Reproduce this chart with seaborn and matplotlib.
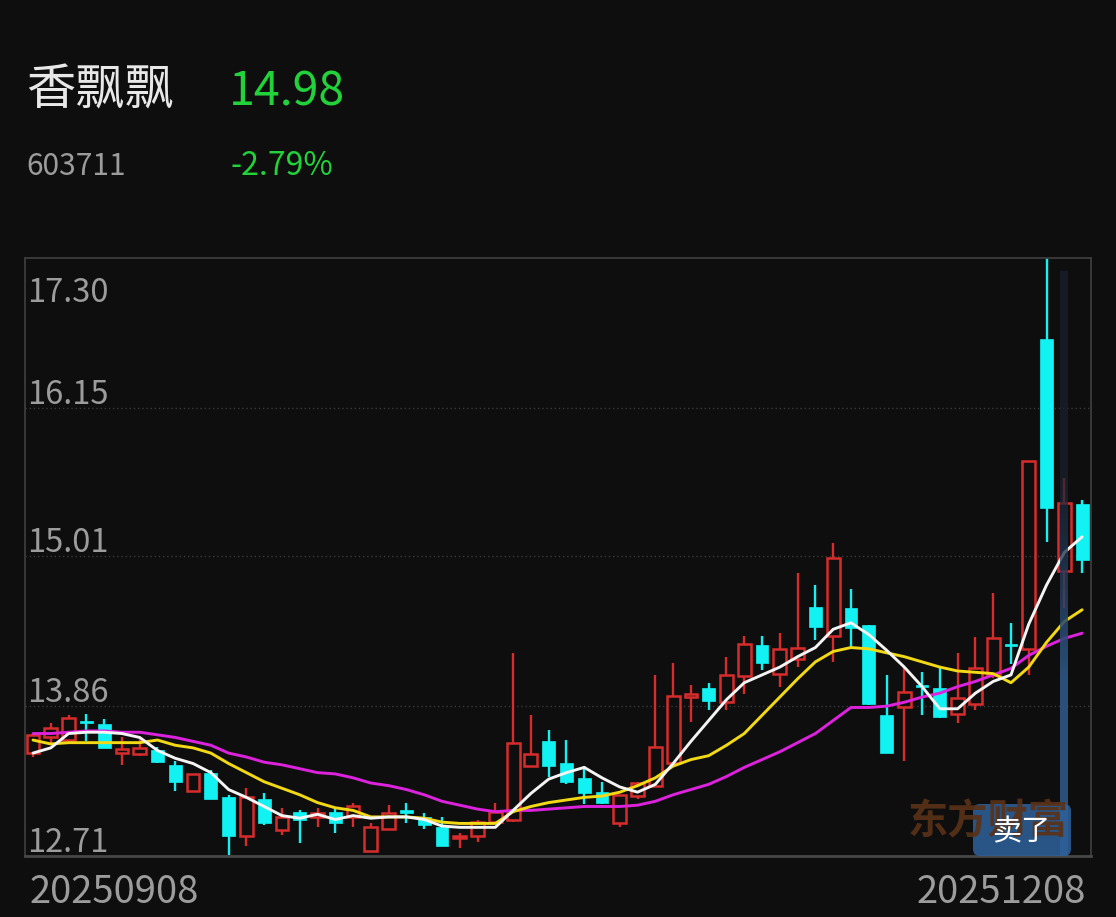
import numpy as np
import pandas as pd
import matplotlib.pyplot as plt
import seaborn as sns
from matplotlib.patches import FancyBboxPatch
from matplotlib.transforms import IdentityTransform

# Header info
stock_name = "香飘飘"
stock_code = "603711"
last_price = "14.98"
pct_change = "-2.79%"
date_labels = ["20250908", "20251208"]
y_ticks = [12.71, 13.86, 15.01, 16.15, 17.30]

# Daily candles, 2025-09-08 .. 2025-12-08 (60 trading days)
open_px = [13.50, 13.62, 13.60, 13.75, 13.72, 13.50, 13.49, 13.52, 13.41, 13.21,
           13.35, 13.16, 12.86, 13.15, 12.91, 13.05, 13.01, 13.05, 13.01, 12.75,
           12.92, 13.06, 13.01, 12.93, 12.85, 12.86, 12.97, 12.99, 13.40, 13.59,
           13.42, 13.31, 13.20, 12.96, 13.17, 13.25, 13.42, 13.93, 14.00, 13.89,
           14.09, 14.33, 14.11, 14.22, 14.62, 14.40, 14.61, 14.48, 13.79, 13.85,
           14.02, 14.00, 13.80, 13.88, 14.10, 14.33, 14.30, 16.68, 14.90, 15.41]
close_px = [13.64, 13.69, 13.77, 13.73, 13.54, 13.53, 13.54, 13.43, 13.28, 13.34,
            13.15, 12.86, 13.16, 12.96, 13.01, 12.99, 13.04, 12.96, 13.09, 12.93,
            13.04, 13.04, 12.95, 12.79, 12.86, 12.97, 13.05, 13.58, 13.49, 13.40,
            13.28, 13.19, 13.12, 13.18, 13.27, 13.55, 13.94, 13.95, 13.90, 14.10,
            14.34, 14.19, 14.30, 14.31, 14.47, 15.00, 14.46, 13.88, 13.50, 13.97,
            14.01, 13.78, 13.92, 14.15, 14.38, 14.32, 15.74, 15.38, 15.42, 14.98]
high_px = [13.65, 13.73, 13.79, 13.80, 13.76, 13.62, 13.61, 13.55, 13.44, 13.34,
           13.37, 13.18, 13.23, 13.19, 13.08, 13.06, 13.08, 13.07, 13.12, 12.96,
           13.10, 13.12, 13.04, 13.01, 12.89, 12.99, 13.12, 14.27, 13.79, 13.68,
           13.60, 13.40, 13.28, 13.18, 13.28, 14.10, 14.19, 14.02, 14.04, 14.24,
           14.40, 14.40, 14.42, 14.88, 14.79, 15.11, 14.76, 14.48, 14.10, 14.16,
           14.12, 14.15, 14.27, 14.39, 14.73, 14.50, 15.74, 17.30, 15.61, 15.44]
low_px = [13.47, 13.58, 13.59, 13.59, 13.54, 13.41, 13.48, 13.42, 13.21, 13.21,
          13.15, 12.72, 12.79, 12.95, 12.87, 12.81, 12.93, 12.89, 12.93, 12.75,
          12.92, 12.96, 12.92, 12.79, 12.77, 12.82, 12.97, 12.97, 13.40, 13.32,
          13.26, 13.11, 13.11, 12.93, 13.15, 13.25, 13.42, 13.74, 13.83, 13.83,
          13.95, 14.14, 14.01, 14.16, 14.37, 14.20, 14.31, 13.87, 13.50, 13.44,
          13.79, 13.77, 13.73, 13.83, 14.08, 14.18, 14.10, 15.12, 14.61, 14.88]

# Moving averages
ma5 = [13.50, 13.54, 13.65, 13.66, 13.66, 13.65, 13.62, 13.52, 13.46, 13.42,
       13.35, 13.22, 13.16, 13.09, 13.02, 13.00, 13.03, 12.99, 13.02, 13.00,
       13.01, 13.01, 12.99, 12.94, 12.93, 12.93, 12.93, 13.06, 13.19, 13.30,
       13.35, 13.39, 13.31, 13.24, 13.20, 13.26, 13.42, 13.59, 13.75, 13.91,
       14.04, 14.10, 14.16, 14.24, 14.31, 14.45, 14.50, 14.41, 14.29, 14.16,
       14.01, 13.84, 13.84, 13.96, 14.05, 14.10, 14.49, 14.79, 15.04, 15.16]
ma10 = [13.60, 13.57, 13.58, 13.58, 13.58, 13.58, 13.58, 13.60, 13.56, 13.54,
        13.50, 13.42, 13.35, 13.28, 13.23, 13.18, 13.12, 13.08, 13.06, 13.01,
        13.01, 13.01, 13.00, 12.97, 12.96, 12.96, 12.96, 13.05, 13.09, 13.12,
        13.14, 13.16, 13.17, 13.20, 13.25, 13.31, 13.40, 13.45, 13.48, 13.56,
        13.65, 13.79, 13.93, 14.07, 14.20, 14.28, 14.31, 14.30, 14.27, 14.24,
        14.20, 14.16, 14.13, 14.12, 14.11, 14.04, 14.16, 14.35, 14.51, 14.60]
ma20 = [13.65, 13.65, 13.66, 13.67, 13.67, 13.66, 13.66, 13.64, 13.62, 13.59,
        13.56, 13.50, 13.47, 13.43, 13.41, 13.38, 13.35, 13.34, 13.31, 13.27,
        13.25, 13.22, 13.18, 13.13, 13.10, 13.07, 13.05, 13.06, 13.06, 13.07,
        13.08, 13.09, 13.09, 13.09, 13.10, 13.13, 13.18, 13.22, 13.26, 13.32,
        13.39, 13.45, 13.51, 13.58, 13.65, 13.75, 13.85, 13.85, 13.86, 13.89,
        13.93, 13.96, 14.01, 14.05, 14.10, 14.15, 14.25, 14.32, 14.38, 14.42]

df = pd.DataFrame({"open": open_px, "close": close_px, "high": high_px, "low": low_px,
                   "ma5": ma5, "ma10": ma10, "ma20": ma20})
df["idx"] = np.arange(len(df))

BG = "#0e0e0e"
UP = "#d82c2c"
DOWN = "#13f2f2"
GRAY = "#9c9c9c"
GREEN = "#21d23a"

sns.set_theme(style="dark")
plt.rcParams["font.family"] = ["Noto Sans CJK SC", "DejaVu Sans"]

fig = plt.figure(figsize=(11.16, 9.17), dpi=100, facecolor=BG)
ax = fig.add_axes([25 / 1116, 61 / 917, 1066 / 1116, 598 / 917])
ax.set_facecolor(BG)

up = df[df["close"] >= df["open"]]
down = df[df["close"] < df["open"]]
w = 0.72
min_h = 0.015

# falling candles: full wick + filled body
ax.vlines(down["idx"], down["low"], down["high"], color=DOWN, lw=1.7, zorder=2)
ax.bar(down["idx"], np.maximum(down["open"] - down["close"], min_h), bottom=down["close"],
       width=w, color=DOWN, edgecolor=DOWN, linewidth=0.5, zorder=3)

# rising candles: hollow body, wick outside the box
body_lo = up[["open", "close"]].min(axis=1)
body_hi = up[["open", "close"]].max(axis=1)
ax.vlines(up["idx"], up["low"], body_lo, color=UP, lw=1.7, zorder=2)
ax.vlines(up["idx"], body_hi, up["high"], color=UP, lw=1.7, zorder=2)
ax.bar(up["idx"], np.maximum(body_hi - body_lo, min_h), bottom=body_lo, width=w,
       facecolor="none", edgecolor=UP, linewidth=1.8, zorder=3)

# moving averages
sns.lineplot(data=df, x="idx", y="ma20", color="#dd22dd", lw=2.1, ax=ax, zorder=4)
sns.lineplot(data=df, x="idx", y="ma10", color="#f2d914", lw=2.1, ax=ax, zorder=4)
sns.lineplot(data=df, x="idx", y="ma5", color="#f4f4f4", lw=2.1, ax=ax, zorder=5)

# highlight bar on the selected day (dark at top, steel blue lower down)
n = 200
grad = np.zeros((n, 1, 4))
t = np.linspace(0, 1, n)
bot_c = np.array([0.18, 0.34, 0.52])
top_c = np.array([0.10, 0.13, 0.19])
mix = np.clip((t - 0.30) / 0.35, 0, 1)[:, None]
grad[:, 0, :3] = bot_c * (1 - mix) + top_c * mix
grad[:, 0, 3] = 0.92 - 0.22 * mix[:, 0]
ax.imshow(grad, extent=(57.78, 58.22, 12.71, 17.20), origin="lower", aspect="auto", zorder=6)

ax.set_xlim(-0.45, 59.5)
ax.set_ylim(12.71, 17.30)
ax.set_xticks([])
ax.set_yticks([13.86, 15.01, 16.15])
ax.set_yticklabels([])
ax.tick_params(left=False, bottom=False)
ax.grid(axis="y", color="#3a3a3a", linestyle=(0, (1, 2)), lw=1)
ax.grid(axis="x", visible=False)
ax.set_xlabel("")
ax.set_ylabel("")
for side, sp in ax.spines.items():
    sp.set_visible(True)
    sp.set_color("#3c3c3c")
    sp.set_linewidth(1.3)
ax.spines["bottom"].set_color("#474747")
ax.spines["bottom"].set_linewidth(2)

# price labels inside the plot
for v in y_ticks:
    dy = -44 if v == y_ticks[-1] else 4
    ax.annotate(f"{v:.2f}", xy=(0.002, v), xycoords=("axes fraction", "data"),
                xytext=(0, dy), textcoords="offset pixels", va="baseline",
                ha="left", color=GRAY, fontsize=23.5)

H = 917
fig.text(30 / 1116, 1 - 903 / H, date_labels[0], color=GRAY, fontsize=27.5, va="baseline", ha="left")
fig.text(1086 / 1116, 1 - 903 / H, date_labels[1], color=GRAY, fontsize=27.5, va="baseline", ha="right")

# header
fig.text(26 / 1116, 1 - 104 / H, stock_name, color="#e8e8e8", fontsize=35.5, va="baseline", ha="left")
fig.text(229 / 1116, 1 - 106 / H, last_price, color=GREEN, fontsize=33.5, va="baseline", ha="left")
fig.text(26 / 1116, 1 - 175 / H, stock_code, color=GRAY, fontsize=21.5, va="baseline", ha="left")
fig.text(231 / 1116, 1 - 175 / H, pct_change, color=GREEN, fontsize=23, va="baseline", ha="left")

# watermark and sell button
fig.text(988 / 1116, 1 - 822 / H, "东方财富", color="#5a3217", fontsize=29, fontweight="bold",
         va="center", ha="center", alpha=0.9)
btn = FancyBboxPatch((973, H - 856), 98, 52, boxstyle="round,pad=0,rounding_size=7",
                     transform=IdentityTransform(), facecolor="#2d6098", edgecolor="none", alpha=0.88)
fig.patches.append(btn)
fig.text(1021 / 1116, 1 - 832 / H, "卖了", color="white", fontsize=21, va="center", ha="center")

plt.savefig("out.png", dpi=100, facecolor=BG)
